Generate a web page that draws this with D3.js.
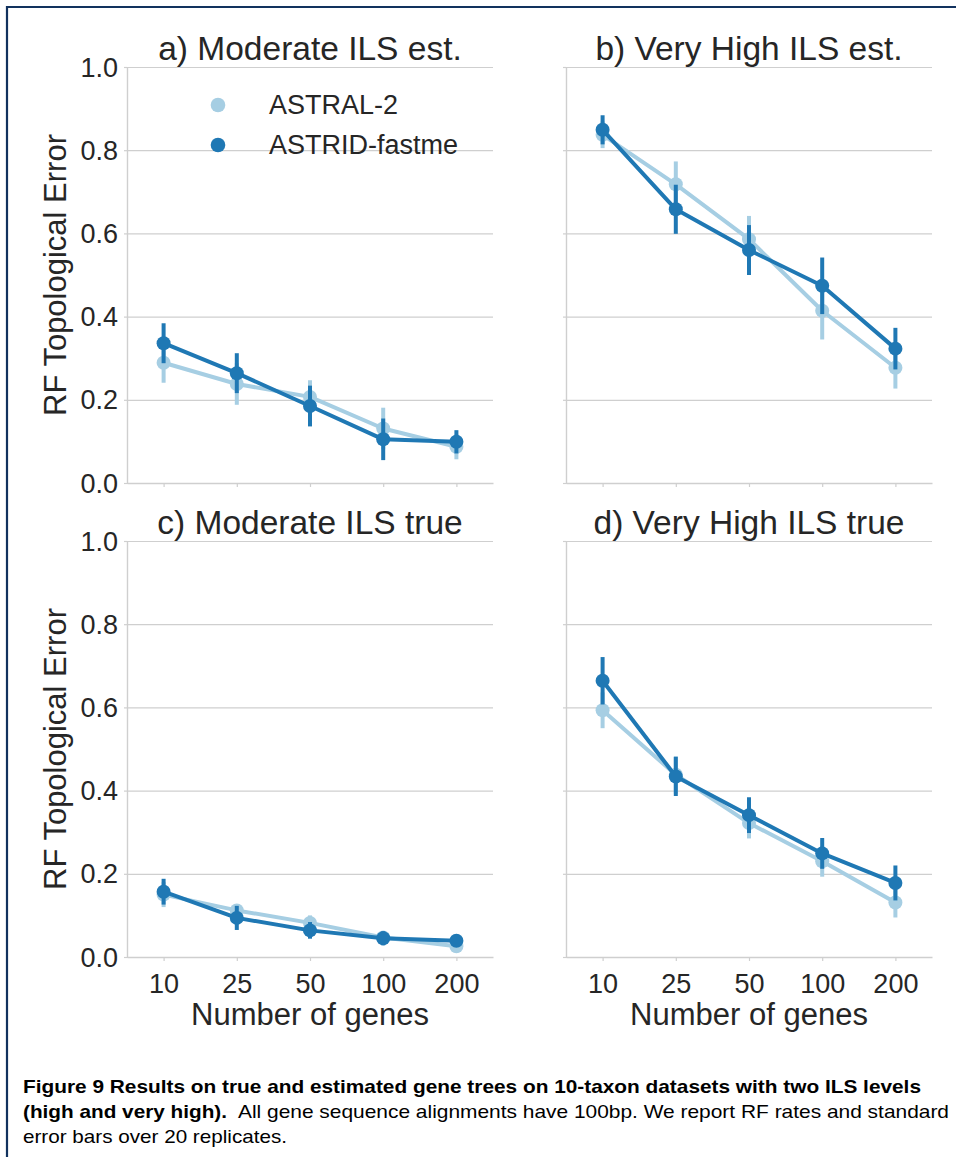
<!DOCTYPE html>
<html><head><meta charset="utf-8">
<script src="https://cdn.jsdelivr.net/npm/d3@7/dist/d3.min.js"></script>
<style>body{margin:0;background:#fff}svg text{font-family:"Liberation Sans",Arial,sans-serif}</style>
</head><body>
<script>
// ---------- data ----------
const categories = ["10", "25", "50", "100", "200"];
const seriesNames = ["ASTRAL-2", "ASTRID-fastme"];
const panelTitles = ["a) Moderate ILS est.", "b) Very High ILS est.", "c) Moderate ILS true", "d) Very High ILS true"];
const yTickValues = [0.0, 0.2, 0.4, 0.6, 0.8, 1.0];

const astralA    = [0.289, 0.238, 0.207, 0.131, 0.087];
const astralAErr = [0.048, 0.050, 0.040, 0.050, 0.030];
const astridA    = [0.336, 0.264, 0.185, 0.105, 0.099];
const astridAErr = [0.048, 0.048, 0.049, 0.050, 0.028];

const astralB    = [0.837, 0.718, 0.586, 0.414, 0.277];
const astralBErr = [0.032, 0.055, 0.056, 0.069, 0.050];
const astridB    = [0.849, 0.658, 0.560, 0.474, 0.323];
const astridBErr = [0.035, 0.059, 0.060, 0.068, 0.050];

const astralC    = [0.150, 0.112, 0.082, 0.047, 0.026];
const astralCErr = [0.030, 0.015, 0.018, 0.015, 0.010];
const astridC    = [0.157, 0.094, 0.064, 0.045, 0.039];
const astridCErr = [0.031, 0.029, 0.020, 0.017, 0.010];

const astralD    = [0.593, 0.438, 0.322, 0.230, 0.131];
const astralDErr = [0.043, 0.045, 0.037, 0.037, 0.036];
const astridD    = [0.664, 0.434, 0.341, 0.249, 0.178];
const astridDErr = [0.057, 0.047, 0.043, 0.037, 0.042];

const yLabel = "RF Topological Error";
const xLabel = "Number of genes";
const captionBold1 = "Figure 9 Results on true and estimated gene trees on 10-taxon datasets with two ILS levels";
const captionBold2 = "(high and very high).";
const captionNormal2 = "All gene sequence alignments have 100bp. We report RF rates and standard";
const captionNormal3 = "error bars over 20 replicates.";

// ---------- layout ----------
const W = 956, H = 1157;
const colors = ["#a6cee3", "#1f78b4"];
const textColor = "#262626";
const gridColor = "#cfcfcf";

const panels = [
  {title: panelTitles[0], left: 127, top: 67,  series: [[astralA, astralAErr], [astridA, astridAErr]], yLabels: true,  xLabels: false, legend: true},
  {title: panelTitles[1], left: 566, top: 67,  series: [[astralB, astralBErr], [astridB, astridBErr]], yLabels: false, xLabels: false},
  {title: panelTitles[2], left: 127, top: 541, series: [[astralC, astralCErr], [astridC, astridCErr]], yLabels: true,  xLabels: true},
  {title: panelTitles[3], left: 566, top: 541, series: [[astralD, astralDErr], [astridD, astridDErr]], yLabels: false, xLabels: true}
];
const pw = 366, ph = 416;

const svg = d3.select("body").append("svg").attr("width", W).attr("height", H);
svg.append("rect").attr("width", W).attr("height", H).attr("fill", "#fff");

// frame
svg.append("line").attr("x1", 7).attr("x2", W).attr("y1", 7).attr("y2", 7).attr("stroke", "#12325e").attr("stroke-width", 2.2);
svg.append("line").attr("x1", 7).attr("x2", 7).attr("y1", 6).attr("y2", H).attr("stroke", "#12325e").attr("stroke-width", 2.2);

const x = d3.scalePoint().domain(categories).range([0, pw]).padding(0.5);
const y = d3.scaleLinear().domain([0, 1]).range([ph, 0]);

panels.forEach(p => {
  const g = svg.append("g").attr("transform", `translate(${p.left},${p.top})`);

  // gridlines
  const grid = g.append("g").call(d3.axisLeft(y).tickValues(yTickValues).tickSize(-pw).tickFormat(""));
  grid.select(".domain").remove();
  grid.selectAll("line").attr("stroke", gridColor).attr("stroke-width", 1.2);

  // y axis
  const ya = g.append("g").call(d3.axisLeft(y).tickValues(yTickValues).tickSizeInner(3).tickSizeOuter(0).tickPadding(6)
      .tickFormat(p.yLabels ? d3.format(".1f") : () => ""));
  ya.select(".domain").attr("stroke", gridColor).attr("stroke-width", 1.4);
  ya.selectAll("line").attr("stroke", gridColor).attr("stroke-width", 1.2);
  ya.selectAll("text").attr("fill", textColor).attr("font-size", 27).attr("font-family", "Liberation Sans, Arial, sans-serif").attr("dy", "0.34em");

  // x axis
  const xa = g.append("g").attr("transform", `translate(0,${ph})`)
    .call(d3.axisBottom(x).tickSizeInner(4).tickSizeOuter(0).tickPadding(8)
      .tickFormat(p.xLabels ? (d => d) : () => ""));
  xa.select(".domain").attr("stroke", gridColor).attr("stroke-width", 1.4);
  xa.selectAll("line").attr("stroke", gridColor).attr("stroke-width", 1.2);
  xa.selectAll("text").attr("fill", textColor).attr("font-size", 27).attr("font-family", "Liberation Sans, Arial, sans-serif").attr("dy", "0.88em");

  // title
  g.append("text").attr("x", pw / 2).attr("y", -7).attr("text-anchor", "middle")
    .attr("font-size", 33.5).attr("fill", textColor).text(p.title);

  if (p.yLabels) {
    g.append("text").attr("transform", `translate(${66 - p.left},${ph / 2}) rotate(-90)`)
      .attr("text-anchor", "middle").attr("font-size", 31).attr("fill", textColor).text(yLabel);
  }
  if (p.xLabels) {
    g.append("text").attr("x", pw / 2).attr("y", ph + 68).attr("text-anchor", "middle")
      .attr("font-size", 31).attr("fill", textColor).text(xLabel);
  }

  // series
  p.series.forEach(([vals, errs], si) => {
    const data = categories.map((c, i) => ({c, v: vals[i], e: errs[i]}));
    const sg = g.append("g");
    sg.append("path").datum(data)
      .attr("d", d3.line().x(d => x(d.c)).y(d => y(d.v)))
      .attr("fill", "none").attr("stroke", colors[si]).attr("stroke-width", 4).attr("stroke-linejoin", "round");
    sg.selectAll("line.err").data(data).join("line").attr("class", "err")
      .attr("x1", d => x(d.c)).attr("x2", d => x(d.c))
      .attr("y1", d => y(d.v - d.e)).attr("y2", d => y(d.v + d.e))
      .attr("stroke", colors[si]).attr("stroke-width", 4);
    sg.selectAll("circle").data(data).join("circle")
      .attr("cx", d => x(d.c)).attr("cy", d => y(d.v)).attr("r", 7)
      .attr("fill", colors[si]);
  });

  if (p.legend) {
    const lg = g.append("g");
    seriesNames.forEach((name, i) => {
      lg.append("circle").attr("cx", 218 - p.left).attr("cy", 105 + 40 * i - p.top).attr("r", 7.3).attr("fill", colors[i]);
      lg.append("text").attr("x", 269 - p.left).attr("y", 114 + 40 * i - p.top)
        .attr("font-size", 27).attr("fill", textColor).text(name);
    });
  }
});

// caption
const cap = svg.append("g").attr("fill", "#000");
cap.append("text").attr("x", 23).attr("y", 1093).attr("font-size", 18.5).attr("font-weight", "bold")
  .attr("textLength", 898).attr("lengthAdjust", "spacingAndGlyphs").text(captionBold1);
cap.append("text").attr("x", 23).attr("y", 1118).attr("font-size", 18.5).attr("font-weight", "bold")
  .attr("textLength", 204).attr("lengthAdjust", "spacingAndGlyphs").text(captionBold2);
cap.append("text").attr("x", 238).attr("y", 1118).attr("font-size", 18.5)
  .attr("textLength", 711).attr("lengthAdjust", "spacingAndGlyphs").text(captionNormal2);
cap.append("text").attr("x", 23).attr("y", 1142.5).attr("font-size", 18.5)
  .attr("textLength", 264).attr("lengthAdjust", "spacingAndGlyphs").text(captionNormal3);
</script>
</body></html>
